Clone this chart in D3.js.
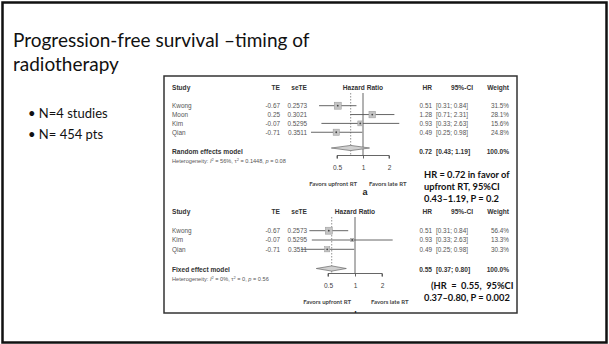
<!DOCTYPE html>
<html>
<head>
<meta charset="utf-8">
<script src="https://cdn.jsdelivr.net/npm/d3@7"></script>
<style>
  html, body { margin: 0; padding: 0; background: #fff; }
  svg { display: block; }
</style>
</head>
<body>
<div id="vis"></div>
<script>
/********************************************************************
Datos
*********************************************************************/

const titleLines = ["Progression-free survival \u2013timing of", "radiotherapy"];
const bullets = ["N=4 studies", "N= 454 pts"];

// Panel a: random effects
const studiesA = ["Kwong", "Moon", "Kim", "Qian"];
const teA = ["-0.67", "0.25", "-0.07", "-0.71"];
const seteA = ["0.2573", "0.3021", "0.5295", "0.3511"];
const hrA = [0.51, 1.28, 0.93, 0.49];
const loA = [0.31, 0.71, 0.33, 0.25];
const hiA = [0.84, 2.31, 2.63, 0.98];
const weightA = [31.5, 28.1, 15.6, 24.8];
const pooledA = [0.72, 0.43, 1.19];

// Panel b: fixed effect
const studiesB = ["Kwong", "Kim", "Qian"];
const teB = ["-0.67", "-0.07", "-0.71"];
const seteB = ["0.2573", "0.5295", "0.3511"];
const hrB = [0.51, 0.93, 0.49];
const loB = [0.31, 0.33, 0.25];
const hiB = [0.84, 2.63, 0.98];
const weightB = [56.4, 13.3, 30.3];
const pooledB = [0.55, 0.37, 0.80];

const axisTicks = [0.5, 1, 2];
const annotA = ["HR = 0.72 in favor of", "upfront RT, 95%CI", "0.43\u20131.19, P = 0.2"];
const annotB = ["(HR  =  0.55,  95%CI", "0.37\u20130.80, P = 0.002"];

/********************************************************************
Constantes de tamaño
*********************************************************************/
const WIDTH = 609;
const HEIGHT = 344;
const box = { x0: 164, y0: 76, x1: 517, y1: 313 };
const FOREST_FONT = "'Liberation Sans', Arial, sans-serif";
const SLIDE_FONT = "Lato, 'Open Sans', sans-serif";

const svg = d3.select("#vis")
    .append("svg")
    .attr("width", WIDTH)
    .attr("height", HEIGHT);

/********************************************************************
Funciones
*********************************************************************/

function fmt(v) { return d3.format(".2f")(v); }

// Dibuja un forest plot completo dentro del grupo g
function drawForest(g, p) {
    const rows = p.studies.map((s, i) => ({
        study: s, te: p.te[i], se: p.se[i], hr: p.hr[i], lo: p.lo[i], hi: p.hi[i], w: p.w[i]
    }));

    const x = d3.scaleLog().domain([0.5, 2]).range([p.nullX - p.half, p.nullX + p.half]);
    const y = d3.scaleLinear().domain([0, 1]).range([p.rowTop, p.rowTop + p.rowStep]);
    const size = d3.scaleSqrt().domain([0, d3.max(rows, d => d.w)]).range([0, 7]);

    // encabezados
    const head = g.append("g")
        .attr("font-family", FOREST_FONT)
        .attr("font-size", 6.6)
        .attr("font-weight", "bold")
        .attr("fill", "#333");
    head.append("text").attr("x", p.studyX).attr("y", p.headY).text("Study");
    head.append("text").attr("x", p.teX).attr("y", p.headY).attr("text-anchor", "end").text("TE");
    head.append("text").attr("x", p.seX).attr("y", p.headY).attr("text-anchor", "end").text("seTE");
    head.append("text").attr("x", p.nullX).attr("y", p.headY).attr("text-anchor", "middle").text("Hazard Ratio");
    head.append("text").attr("x", p.hrX).attr("y", p.headY).attr("text-anchor", "end").text("HR");
    head.append("text").attr("x", p.ciX + 37).attr("y", p.headY).attr("text-anchor", "end").text("95%-CI");
    head.append("text").attr("x", p.wX).attr("y", p.headY).attr("text-anchor", "end").text("Weight");

    // línea de no efecto y línea punteada del estimador combinado
    g.append("line")
        .attr("x1", x(1)).attr("x2", x(1))
        .attr("y1", p.headY + 3).attr("y2", p.axisY)
        .attr("stroke", "#555").attr("stroke-width", 0.9);
    g.append("line")
        .attr("x1", x(p.pooled[0])).attr("x2", x(p.pooled[0]))
        .attr("y1", p.headY + 3).attr("y2", p.axisY)
        .attr("stroke", "#777").attr("stroke-width", 0.8)
        .attr("stroke-dasharray", "1.5,1.5");

    // filas de estudios
    const rowG = g.selectAll(".row")
        .data(rows)
        .enter()
        .append("g")
        .attr("class", "row")
        .attr("font-family", FOREST_FONT)
        .attr("font-size", 6.4)
        .attr("fill", "#555");

    rowG.append("text").attr("x", p.studyX).attr("y", (d, i) => y(i) + 2.3).text(d => d.study);
    rowG.append("text").attr("x", p.teX).attr("y", (d, i) => y(i) + 2.3).attr("text-anchor", "end").text(d => d.te);
    rowG.append("text").attr("x", p.seX).attr("y", (d, i) => y(i) + 2.3).attr("text-anchor", "end").text(d => d.se);
    rowG.append("text").attr("x", p.hrX).attr("y", (d, i) => y(i) + 2.3).attr("text-anchor", "end").text(d => fmt(d.hr));
    rowG.append("text").attr("x", p.ciX).attr("y", (d, i) => y(i) + 2.3).text(d => `[${fmt(d.lo)}; ${fmt(d.hi)}]`);
    rowG.append("text").attr("x", p.wX).attr("y", (d, i) => y(i) + 2.3).attr("text-anchor", "end").text(d => d.w.toFixed(1) + "%");

    rowG.append("line")
        .attr("x1", d => x(d.lo)).attr("x2", d => x(d.hi))
        .attr("y1", (d, i) => y(i)).attr("y2", (d, i) => y(i))
        .attr("stroke", "#555").attr("stroke-width", 0.9);
    rowG.append("rect")
        .attr("x", d => x(d.hr) - size(d.w) / 2)
        .attr("y", (d, i) => y(i) - size(d.w) / 2)
        .attr("width", d => size(d.w))
        .attr("height", d => size(d.w))
        .attr("fill", "#c4c4c4")
        .attr("stroke", "#999")
        .attr("stroke-width", 0.5);
    rowG.append("circle")
        .attr("cx", d => x(d.hr))
        .attr("cy", (d, i) => y(i))
        .attr("r", 0.9)
        .attr("fill", "#444");

    // modelo combinado
    const [est, lo, hi] = p.pooled;
    g.append("path")
        .attr("d", `M${x(lo)},${p.diamondY} L${x(est)},${p.diamondY - 2.6} L${x(hi)},${p.diamondY} L${x(est)},${p.diamondY + 2.6} Z`)
        .attr("fill", "#d0d0d0")
        .attr("stroke", "#666")
        .attr("stroke-width", 0.7);

    const pool = g.append("g")
        .attr("font-family", FOREST_FONT)
        .attr("font-size", 6.6)
        .attr("font-weight", "bold")
        .attr("fill", "#333");
    pool.append("text").attr("x", p.studyX).attr("y", p.modelY + 2.3).text(p.modelLabel);
    pool.append("text").attr("x", p.hrX).attr("y", p.modelY + 2.3).attr("text-anchor", "end").text(fmt(est));
    pool.append("text").attr("x", p.ciX).attr("y", p.modelY + 2.3).text(`[${fmt(lo)}; ${fmt(hi)}]`);
    pool.append("text").attr("x", p.wX).attr("y", p.modelY + 2.3).attr("text-anchor", "end").text("100.0%");

    // heterogeneidad
    const het = g.append("text")
        .attr("x", p.studyX).attr("y", p.hetY + 2)
        .attr("font-family", FOREST_FONT)
        .attr("font-size", 5.6)
        .attr("fill", "#555");
    het.append("tspan").text("Heterogeneity: ");
    het.append("tspan").attr("font-style", "italic").text("I");
    het.append("tspan").attr("font-size", 4).attr("dy", -2).text("2");
    het.append("tspan").attr("dy", 2).text(` = ${p.het[0]}, \u03c4`);
    het.append("tspan").attr("font-size", 4).attr("dy", -2).text("2");
    het.append("tspan").attr("dy", 2).text(` = ${p.het[1]}, `);
    het.append("tspan").attr("font-style", "italic").text("p");
    het.append("tspan").text(` = ${p.het[2]}`);

    // eje
    const axis = d3.axisBottom(x)
        .tickValues(axisTicks)
        .tickFormat(d => d)
        .tickSize(3)
        .tickPadding(7);
    const ax = g.append("g")
        .attr("transform", `translate(0, ${p.axisY})`)
        .call(axis);
    ax.select(".domain").attr("stroke", "#555").attr("stroke-width", 0.9)
        .attr("d", `M${x(0.5)},3V0H${x(2)}V3`);
    ax.selectAll(".tick line").attr("stroke", "#555").attr("stroke-width", 0.9);
    ax.selectAll(".tick text")
        .attr("font-family", FOREST_FONT)
        .attr("font-size", 6.6)
        .attr("fill", "#444");

    // etiquetas de dirección
    const fav = g.append("g")
        .attr("font-family", "Lato, 'Open Sans', sans-serif")
        .attr("font-size", 6)
        .attr("font-weight", "bold")
        .attr("fill", "#444");
    fav.append("text").attr("x", p.favLeftX).attr("y", p.favY + 2).attr("text-anchor", "end").text("Favors upfront RT");
    fav.append("text").attr("x", p.favRightX).attr("y", p.favY + 2).text("Favors late RT");
}

/********************************************************************
Main
*********************************************************************/

// marco de la diapositiva
svg.append("rect")
    .attr("x", 2.5).attr("y", 2.5)
    .attr("width", WIDTH - 5).attr("height", HEIGHT - 4)
    .attr("fill", "none")
    .attr("stroke", "#111")
    .attr("stroke-width", 2.5);

// título
svg.append("g")
    .attr("font-family", SLIDE_FONT)
    .attr("font-size", 19)
    .attr("fill", "#111")
    .selectAll("text")
    .data(titleLines)
    .enter()
    .append("text")
    .attr("x", 13)
    .attr("y", (d, i) => 47 + i * 24)
    .text(d => d);

// viñetas
const bulletG = svg.append("g")
    .attr("font-family", SLIDE_FONT)
    .attr("font-size", 13)
    .attr("fill", "#111");
bulletG.selectAll(".b")
    .data(bullets)
    .enter()
    .append("text")
    .attr("x", 28)
    .attr("y", (d, i) => 118 + i * 21)
    .text(d => "\u2022 " + d);

// figura
svg.append("rect")
    .attr("x", box.x0).attr("y", box.y0)
    .attr("width", box.x1 - box.x0).attr("height", box.y1 - box.y0)
    .attr("fill", "#fff")
    .attr("stroke", "#333")
    .attr("stroke-width", 1.5);

svg.append("clipPath").attr("id", "boxclip")
    .append("rect")
    .attr("x", box.x0).attr("y", box.y0)
    .attr("width", box.x1 - box.x0).attr("height", box.y1 - box.y0);

const fig = svg.append("g").attr("clip-path", "url(#boxclip)");

drawForest(fig.append("g"), {
    studies: studiesA, te: teA, se: seteA, hr: hrA, lo: loA, hi: hiA, w: weightA,
    pooled: pooledA, het: ["56%", "0.1448", "0.08"], modelLabel: "Random effects model",
    studyX: 172, teX: 280, seX: 307, hrX: 432, ciX: 436, wX: 509,
    nullX: 363, half: 26,
    headY: 90, rowTop: 105.7, rowStep: 8.85,
    diamondY: 148, modelY: 152, hetY: 160.5, axisY: 155.5, favY: 183.5, favLeftX: 357, favRightX: 369
});

drawForest(fig.append("g"), {
    studies: studiesB, te: teB, se: seteB, hr: hrB, lo: loB, hi: hiB, w: weightB,
    pooled: pooledB, het: ["0%", "0", "0.56"], modelLabel: "Fixed effect model",
    studyX: 172, teX: 280, seX: 307, hrX: 432, ciX: 436, wX: 509,
    nullX: 355, half: 27,
    headY: 214, rowTop: 230.7, rowStep: 9.3,
    diamondY: 268.5, modelY: 269.3, hetY: 279, axisY: 273.5, favY: 301.5, favLeftX: 351, favRightX: 371
});

// letras de panel
fig.append("text")
    .attr("x", 365).attr("y", 195)
    .attr("text-anchor", "middle")
    .attr("font-family", FOREST_FONT)
    .attr("font-size", 9)
    .attr("font-weight", "bold")
    .attr("fill", "#222")
    .text("a");
fig.append("text")
    .attr("x", 357).attr("y", 318)
    .attr("text-anchor", "middle")
    .attr("font-family", FOREST_FONT)
    .attr("font-size", 9)
    .attr("font-weight", "bold")
    .attr("fill", "#222")
    .text("b");

// anotaciones
const annot = svg.append("g")
    .attr("font-family", SLIDE_FONT)
    .attr("font-size", 9.3)
    .attr("font-weight", "bold")
    .attr("fill", "#111");
annot.selectAll(".a1")
    .data(annotA)
    .enter()
    .append("text")
    .attr("x", 424)
    .attr("y", (d, i) => 177.5 + i * 12)
    .text(d => d);
annot.selectAll(".a2")
    .data(annotB)
    .enter()
    .append("text")
    .attr("x", (d, i) => i === 0 ? 431 : 424)
    .attr("y", (d, i) => 288.5 + i * 12.5)
    .attr("xml:space", "preserve")
    .style("white-space", "pre")
    .text(d => d);
</script>
</body>
</html>
